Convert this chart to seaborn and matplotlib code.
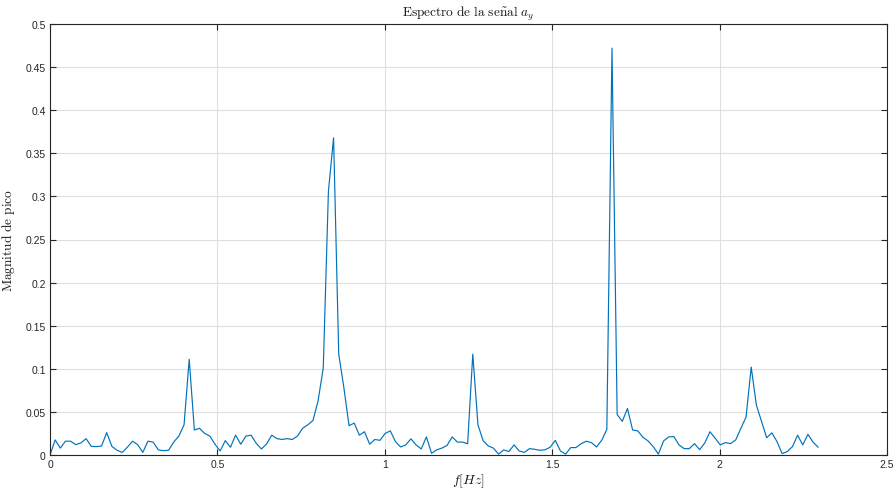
import numpy as np
import pandas as pd
import matplotlib
matplotlib.use("Agg")
import matplotlib.pyplot as plt
import seaborn as sns

# Single-sided amplitude spectrum of the a_y acceleration signal
DF = 0.0154  # frequency resolution [Hz]
mag = [
    0.000, 0.0175, 0.008, 0.016, 0.016, 0.012, 0.014, 0.019, 0.010, 0.0097,
    0.0105, 0.026, 0.010, 0.0055, 0.003, 0.009, 0.016, 0.012, 0.003, 0.016,
    0.015, 0.006, 0.005, 0.0055, 0.015, 0.022, 0.035, 0.111, 0.029, 0.031,
    0.025, 0.022, 0.0125, 0.0047, 0.0167, 0.009, 0.023, 0.0125, 0.022, 0.023,
    0.0136, 0.007, 0.0128, 0.023, 0.019, 0.018, 0.019, 0.018, 0.022, 0.031,
    0.035, 0.040, 0.063, 0.101, 0.306, 0.368, 0.117, 0.078, 0.034, 0.037,
    0.023, 0.027, 0.0125, 0.018, 0.017, 0.025, 0.028, 0.0155, 0.0093, 0.0117,
    0.0187, 0.0117, 0.007, 0.021, 0.002, 0.006, 0.008, 0.011, 0.021, 0.015,
    0.015, 0.013, 0.117, 0.035, 0.0167, 0.0105, 0.008, 0.001, 0.006, 0.004,
    0.0117, 0.0047, 0.003, 0.0074, 0.0066, 0.0055, 0.006, 0.009, 0.017, 0.0047,
    0.001, 0.0086, 0.0086, 0.013, 0.016, 0.0144, 0.0093, 0.017, 0.0296, 0.472,
    0.047, 0.039, 0.054, 0.029, 0.028, 0.0206, 0.0163, 0.0097, 0.001, 0.0163,
    0.021, 0.0214, 0.0117, 0.0074, 0.0074, 0.0132, 0.0062, 0.014, 0.027, 0.0195,
    0.0117, 0.0144, 0.0132, 0.0175, 0.031, 0.044, 0.102, 0.058, 0.039, 0.020,
    0.0257, 0.0156, 0.0016, 0.004, 0.0097, 0.023, 0.0117, 0.024, 0.0148, 0.009,
]
freq = np.arange(len(mag)) * DF

xticks = [0, 0.5, 1, 1.5, 2, 2.5]
xtick_labels = ["0", "0.5", "1", "1.5", "2", "2.5"]
yticks = [0, 0.05, 0.1, 0.15, 0.2, 0.25, 0.3, 0.35, 0.4, 0.45, 0.5]
ytick_labels = ["0", "0.05", "0.1", "0.15", "0.2", "0.25", "0.3", "0.35", "0.4", "0.45", "0.5"]

df = pd.DataFrame({"f": freq, "mag": mag})

sns.set_style("whitegrid")
plt.rcParams["font.family"] = ["Liberation Sans", "DejaVu Sans"]
plt.rcParams["mathtext.fontset"] = "cm"

fig = plt.figure(figsize=(8.96, 4.89), dpi=100)
ax = fig.add_axes([50 / 896, 1 - 456 / 489, 837 / 896, 431 / 489])

sns.lineplot(data=df, x="f", y="mag", ax=ax, color="#0072BD", linewidth=0.85)

ax.set_xlim(0, 2.5)
ax.set_ylim(0, 0.5)
ax.set_xticks(xticks)
ax.set_xticklabels(xtick_labels)
ax.set_yticks(yticks)
ax.set_yticklabels(ytick_labels)

ax.grid(True, color="#dfdfdf", linewidth=0.8)
ax.set_axisbelow(True)
for side in ["left", "right", "top", "bottom"]:
    ax.spines[side].set_visible(True)
    ax.spines[side].set_color("#262626")
    ax.spines[side].set_linewidth(0.8)

ax.tick_params(axis="both", which="both", direction="in", length=4, width=0.8,
               color="#262626", labelcolor="#262626", labelsize=7.5,
               top=True, right=True, bottom=True, left=True, pad=3)

ax.set_title(r"$\mathrm{Espectro\ de\ la\ se\tilde{n}al}\ a_y$", fontsize=9.6, pad=6, color="#1a1a1a")
ax.set_xlabel(r"$f[Hz]$", fontsize=10, labelpad=2, color="#1a1a1a")
ax.set_ylabel(r"$\mathrm{Magnitud\ de\ pico}$", fontsize=9.6, labelpad=6, color="#1a1a1a")

fig.savefig("out.png", dpi=100)
